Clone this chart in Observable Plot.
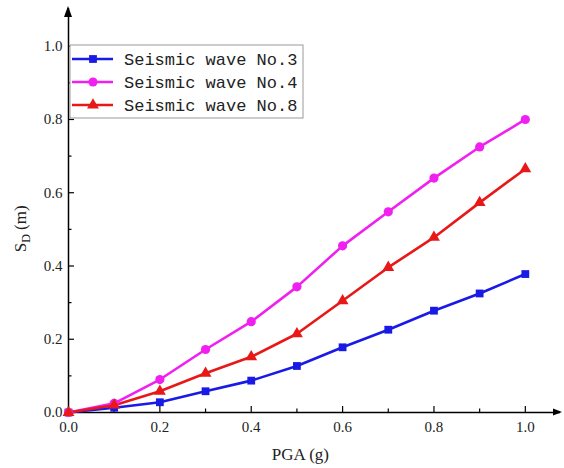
<!DOCTYPE html>
<html>
<head>
<meta charset="utf-8">
<script src="https://cdn.jsdelivr.net/npm/d3@7"></script>
<script src="https://cdn.jsdelivr.net/npm/@observablehq/plot@0.6"></script>
<style>
  html, body { margin: 0; padding: 0; background: #fff; }
  #chart svg { display: block; }
  #chart svg g[aria-label="x-axis tick label"] text,
  #chart svg g[aria-label="y-axis tick label"] text { font-family: 'Liberation Serif', 'Times New Roman', serif; }
</style>
</head>
<body>
<div id="chart"></div>
<script>
const pga = [0, 0.1, 0.2, 0.3, 0.4, 0.5, 0.6, 0.7, 0.8, 0.9, 1.0];
const wave3 = [0, 0.013, 0.028, 0.058, 0.087, 0.127, 0.178, 0.226, 0.278, 0.325, 0.378];
const wave4 = [0, 0.025, 0.090, 0.172, 0.248, 0.343, 0.455, 0.548, 0.640, 0.725, 0.800];
const wave8 = [0, 0.020, 0.058, 0.107, 0.152, 0.215, 0.305, 0.396, 0.478, 0.573, 0.665];
const seriesNames = ["Seismic wave No.3", "Seismic wave No.4", "Seismic wave No.8"];
const xTicks = [0, 0.2, 0.4, 0.6, 0.8, 1.0];
const xMinor = [0.1, 0.3, 0.5, 0.7, 0.9];
const yTicks = [0, 0.2, 0.4, 0.6, 0.8, 1.0];
const yMinor = [0.1, 0.3, 0.5, 0.7, 0.9];

const colors = ["#1a1ae6", "#f020f0", "#e81818"];
const symbols = ["square", "circle", "triangle"];
const radii = [4.4, 4.6, 4.4];

const valuesList = [wave3, wave4, wave8];
const rows = valuesList.flatMap((vals, si) =>
  pga.map((x, i) => ({series: seriesNames[si], si, x, y: vals[i]})));

const W = 564, H = 468;
const xDomain = [0, 1.077];
const yDomain = [0, 1.103];
const mL = 68, mR = 4, mT = 8, mB = 56;
const pxX = (W - mL - mR) / (xDomain[1] - xDomain[0]);
const pxY = (H - mT - mB) / (yDomain[1] - yDomain[0]);

const font = "'Liberation Serif', 'Times New Roman', serif";

const marks = [];
marks.push(Plot.ruleY([0], {stroke: "#000", strokeWidth: 1.5}));
marks.push(Plot.ruleX([0], {stroke: "#000", strokeWidth: 1.5}));
marks.push(Plot.ruleX(xTicks, {x: d => d, y1: 0, y2: 6 / pxY, stroke: "#000", strokeWidth: 1.2}));
marks.push(Plot.ruleX(xMinor, {x: d => d, y1: 0, y2: 3.5 / pxY, stroke: "#000", strokeWidth: 1.2}));
marks.push(Plot.ruleY(yTicks, {y: d => d, x1: 0, x2: 6 / pxX, stroke: "#000", strokeWidth: 1.2}));
marks.push(Plot.ruleY(yMinor, {y: d => d, x1: 0, x2: 3.5 / pxX, stroke: "#000", strokeWidth: 1.2}));
marks.push(Plot.axisX({ticks: xTicks, tickSize: 0, tickPadding: 9, tickFormat: d3.format(".1f"), label: null, fontSize: 15, fontFamily: font, fill: "#222"}));
marks.push(Plot.axisY({ticks: yTicks, tickSize: 0, tickPadding: 6, tickFormat: d3.format(".1f"), label: null, fontSize: 15, fontFamily: font, fill: "#222"}));
seriesNames.forEach((name, si) => {
  const data = rows.filter(d => d.si === si);
  marks.push(Plot.line(data, {x: "x", y: "y", stroke: colors[si], strokeWidth: 2.6}));
});
seriesNames.forEach((name, si) => {
  const data = rows.filter(d => d.si === si);
  marks.push(Plot.dot(data, {x: "x", y: "y", symbol: symbols[si], r: radii[si], fill: colors[si], stroke: "none"}));
});

const plot = Plot.plot({
  width: W, height: H,
  marginLeft: mL, marginRight: mR, marginTop: mT, marginBottom: mB,
  style: {fontFamily: font, fontSize: "15px", background: "#fff", overflow: "visible"},
  x: {domain: xDomain},
  y: {domain: yDomain},
  marks
});

const svg = d3.select(plot);
const xs = plot.scale("x"), ys = plot.scale("y");
const x0 = xs.apply(0), y0 = ys.apply(0);
const xEnd = xs.apply(xDomain[1]), yEnd = ys.apply(yDomain[1]);
svg.append("path")
  .attr("d", `M${x0},${yEnd - 2} l-4,11 l8,0 z`)
  .attr("fill", "#000");
svg.append("path")
  .attr("d", `M${xEnd + 2},${y0} l-9,-3.5 l0,7 z`)
  .attr("fill", "#000");

svg.append("text")
  .attr("x", (x0 + xs.apply(1.0)) / 2 + 4)
  .attr("y", H - 8)
  .attr("text-anchor", "middle")
  .attr("font-family", font)
  .attr("font-size", 17)
  .attr("fill", "#222")
  .text("PGA (g)");
const yl = svg.append("text")
  .attr("transform", `translate(26,${(y0 + ys.apply(1.0)) / 2}) rotate(-90)`)
  .attr("text-anchor", "middle")
  .attr("font-family", font)
  .attr("font-size", 17)
  .attr("fill", "#222");
yl.append("tspan").text("S");
yl.append("tspan").attr("font-size", 12).attr("dy", 4).text("D");
yl.append("tspan").attr("dy", -4).text(" (m)");

const lg = svg.append("g").attr("transform", "translate(70,45)");
lg.append("rect").attr("width", 233).attr("height", 73)
  .attr("fill", "#fff").attr("stroke", "#999").attr("stroke-width", 1);
seriesNames.forEach((name, si) => {
  const cy = 14 + si * 23;
  lg.append("line").attr("x1", 2).attr("x2", 43).attr("y1", cy).attr("y2", cy)
    .attr("stroke", colors[si]).attr("stroke-width", 2.6);
  const sym = d3.symbol(
    si === 0 ? d3.symbolSquare : si === 1 ? d3.symbolCircle : d3.symbolTriangle,
    Math.PI * radii[si] * radii[si]);
  lg.append("path").attr("d", sym()).attr("transform", `translate(23,${cy})`)
    .attr("fill", colors[si]);
  lg.append("text").attr("x", 54).attr("y", cy + 6)
    .attr("text-anchor", "start")
    .attr("font-family", "'Liberation Mono', 'Courier New', monospace")
    .attr("font-size", 17).attr("fill", "#222")
    .text(name);
});

document.getElementById("chart").appendChild(plot);
</script>
</body>
</html>
